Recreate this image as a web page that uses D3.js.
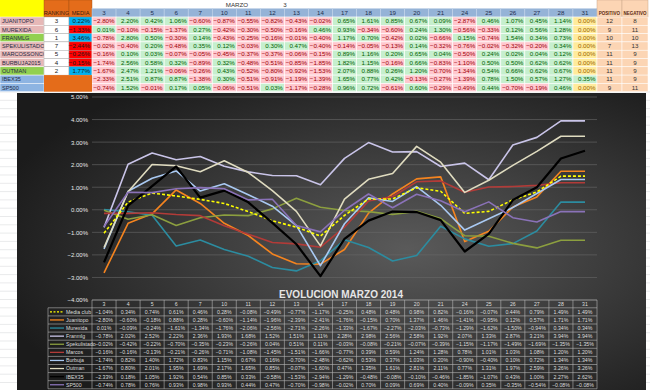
<!DOCTYPE html>
<html>
<head>
<meta charset="utf-8">
<script src="https://cdn.jsdelivr.net/npm/d3@7"></script>
<style>
body{margin:0;background:#fff}
svg{display:block;font-family:"Liberation Sans",Arial,sans-serif}
</style>
</head>
<body>
<svg id="c" width="650" height="390"></svg>
<script>
// dias de marzo
var days = ["3","4","5","6","7","10","11","12","13","14","17","18","19","20","21","24","25","26","27","28","31"];

// tabla de arriba
var players = ["JUANITOPO","MUREXIDA","FRANMLG","SPEKULISTADO","MARCOSSONCCO","BURBUJA2015","OUTMAN","IBEX35","SP500"];
var ranking = [3,6,1,7,5,4,2];
var media = [0.22,-1.33,3.46,-2.44,-0.26,-0.15,1.77];
var positivo = [12,9,10,7,11,11,11,11,9];
var negativo = [8,11,10,13,9,9,9,9,11];

var dJuanitopo = [-2.80,2.20,0.42,1.06,-0.60,-0.87,-0.55,-0.82,-0.43,-0.02,0.65,1.61,0.85,0.67,0.09,-2.87,0.46,1.07,0.45,1.14,0.00];
var dMurexida = [0.01,-0.10,-0.15,-1.37,0.27,-0.42,-0.30,-0.50,-0.16,0.46,0.93,-0.34,-0.60,0.24,1.30,-0.56,-0.33,0.12,0.56,1.28,0.00];
var dFranmlg = [-0.78,2.80,0.50,-0.30,0.14,-0.43,-0.25,-0.16,-0.01,-0.40,1.17,0.70,-0.42,0.02,-0.66,0.15,-0.74,1.54,0.34,0.73,0.00];
var dSpekulistado = [-0.02,-0.40,0.20,-0.48,0.35,0.12,-0.03,0.30,0.47,-0.40,-0.14,-0.05,-0.13,0.14,-0.32,-0.76,-0.02,-0.32,-0.20,0.34,0.00];
var dMarcos = [-0.16,0.10,0.03,-0.07,-0.05,-0.45,-0.37,-0.37,-0.06,-0.15,0.89,1.16,0.20,0.65,0.04,-0.50,0.24,0.02,0.04,0.12,0.00];
var dBurbuja = [-1.74,2.56,0.58,0.32,-0.89,0.32,-0.48,-0.51,-0.85,-1.85,1.82,1.15,-0.16,0.66,-0.83,-1.10,0.50,0.50,0.62,0.62,0.00];
var dOutman = [-1.67,2.47,1.21,-0.06,-0.26,0.43,-0.52,-0.80,-0.92,-1.53,2.07,0.88,0.26,1.20,-0.70,-1.34,0.54,0.66,0.62,0.67,0.00];
var dIbex = [-2.33,2.51,0.87,0.87,-1.38,0.30,-0.51,-0.91,-1.19,-1.39,1.65,0.77,0.42,-0.13,-0.27,-1.39,0.78,1.50,0.57,1.27,0.35];
var dSp500 = [-0.74,1.52,-0.01,0.17,0.05,-0.06,-0.51,0.03,-1.17,-0.28,0.96,0.72,-0.61,0.60,-0.29,-0.49,0.44,-0.70,-0.19,0.46,0.00];

// acumulado (grafico)
var seriesNames = ["Media club","Juanitopo","Murexida","Franmlg","Spekulistado","Marcos","Burbuja","Outman","IBEX35","SP500"];
var cMedia = [-1.04,0.34,0.74,0.61,0.46,0.28,-0.08,-0.49,-0.77,-1.17,-0.25,0.48,0.48,0.98,0.82,-0.16,-0.07,0.44,0.79,1.49,1.49];
var cJuanitopo = [-2.80,-0.60,-0.18,0.88,0.28,-0.60,-1.14,-1.96,-2.39,-2.41,-1.76,-0.15,0.70,1.37,1.46,-1.41,-0.95,0.12,0.57,1.71,1.71];
var cMurexida = [0.01,-0.09,-0.24,-1.61,-1.34,-1.76,-2.06,-2.56,-2.71,-2.26,-1.33,-1.67,-2.27,-2.03,-0.73,-1.29,-1.62,-1.50,-0.94,0.34,0.34];
var cFranmlg = [-0.78,2.02,2.52,2.22,2.36,1.93,1.68,1.52,1.51,1.11,2.28,2.98,2.56,2.58,1.92,2.07,1.33,2.87,3.21,3.94,3.94];
var cSpekulistado = [-0.02,-0.42,-0.22,-0.70,-0.35,-0.23,-0.26,0.04,0.51,0.11,-0.03,-0.08,-0.21,-0.07,-0.39,-1.15,-1.17,-1.49,-1.69,-1.35,-1.35];
var cMarcos = [-0.16,-0.16,-0.13,-0.21,-0.26,-0.71,-1.08,-1.45,-1.51,-1.66,-0.77,0.39,0.59,1.24,1.28,0.78,1.01,1.03,1.08,1.20,1.20];
var cBurbuja = [-1.74,0.82,1.40,1.72,0.83,1.15,0.67,0.16,-0.70,-2.48,-0.62,0.53,0.37,1.03,0.20,-0.90,-0.40,0.10,0.72,1.34,1.34];
var cOutman = [-1.67,0.80,2.01,1.95,1.69,2.17,1.65,0.85,-0.07,-1.60,0.47,1.35,1.61,2.81,2.11,0.77,1.31,1.97,2.59,3.26,3.26];
var cIbex = [-2.33,0.18,1.05,1.92,0.54,0.85,0.33,-0.58,-1.53,-2.94,-1.29,-0.48,-0.08,-0.10,-0.46,-1.85,-1.07,0.43,1.00,2.27,2.62];
var cSp500 = [-0.74,0.78,0.76,0.93,0.98,0.93,0.44,0.47,-0.70,-0.98,-0.02,0.70,0.09,0.69,0.40,-0.09,0.35,-0.35,-0.54,-0.08,-0.08];

var yTicks = [-4,-3,-2,-1,0,1,2,3,4,5];
var colors = ["#ffff00","#f5841f","#2c8ca0","#c9c4e8","#8c9f3f","#b23b38","#a9c9f2","#e0dcc0","#000000","#8a72b8"];

var daily = [dJuanitopo,dMurexida,dFranmlg,dSpekulistado,dMarcos,dBurbuja,dOutman,dIbex,dSp500];
var cumul = [cMedia,cJuanitopo,cMurexida,cFranmlg,cSpekulistado,cMarcos,cBurbuja,cOutman,cIbex,cSp500];

var svg = d3.select("#c");
var pct = function(v){ return d3.format(".2f")(v) + "%"; };

var x = d3.scaleBand().domain(days).range([92, 597]);
var bw = x.bandwidth();

// ---------- hoja de calculo (fondo) ----------
var sheet = svg.append("g");
sheet.append("rect").attr("width",650).attr("height",390).attr("fill","#fff");
d3.range(92, 390, 8.3).forEach(function(yy){
    sheet.append("line").attr("x1",0).attr("x2",650).attr("y1",yy).attr("y2",yy).attr("stroke","#dadcdd").attr("stroke-width",0.6);
});

// ---------- tabla superior ----------
var tabla = svg.append("g").style("font-size","6.2px");
var rowY0 = 17, rowH = 8.3;

tabla.append("rect").attr("x",0).attr("y",0).attr("width",44).attr("height",17).attr("fill","#ffff00");
[["RANKING",44,25],["MEDIA",69,23]].forEach(function(h){
    tabla.append("rect").attr("x",h[1]).attr("y",0).attr("width",h[2]).attr("height",17)
        .attr("fill","#e46c1a").attr("stroke","#9a4a10").attr("stroke-width",0.4);
    tabla.append("text").attr("x",h[1] + h[2]/2).attr("y",15).attr("text-anchor","middle")
        .attr("fill","#3a2010").style("font-size","5.6px").text(h[0]);
});
// fila MARZO
tabla.append("text").attr("x",237).attr("y",6.5).attr("text-anchor","middle").attr("fill","#333").text("MARZO");
tabla.append("text").attr("x",285).attr("y",6.5).attr("text-anchor","middle").attr("fill","#333").text("3");

// cabecera dias
tabla.selectAll("rect.hd").data(days).enter().append("rect")
    .attr("x", function(d){ return x(d); }).attr("y",8.5).attr("width",bw).attr("height",8.5)
    .attr("fill","#95b3d7").attr("stroke","#c5d5ea").attr("stroke-width",0.5);
tabla.selectAll("text.hd").data(days).enter().append("text")
    .attr("x", function(d){ return x(d) + bw/2; }).attr("y",15).attr("text-anchor","middle")
    .attr("fill","#1f2f4f").text(function(d){ return d; });

[["POSITIVO",597,25],["NEGATIVO",622,26]].forEach(function(h){
    tabla.append("rect").attr("x",h[1]).attr("y",0).attr("width",h[2]).attr("height",17)
        .attr("fill","#fcd5b4").attr("stroke","#c9a88a").attr("stroke-width",0.5);
    tabla.append("text").attr("x",h[1]+h[2]/2).attr("y",15).attr("text-anchor","middle")
        .attr("fill","#5a2a10").style("font-size","4.5px").style("font-weight","bold").text(h[0]);
});

var nameFill = ["#e6b8b7","#e6b8b7","#92d050","#e6b8b7","#e6b8b7","#e6b8b7","#92d050","#8db4e2","#8db4e2"];
players.forEach(function(p, i){
    var yy = rowY0 + i*rowH;
    tabla.append("rect").attr("x",0).attr("y",yy).attr("width",44).attr("height",rowH)
        .attr("fill",nameFill[i]).attr("stroke","#fff").attr("stroke-width",0.5);
    tabla.append("text").attr("x",2).attr("y",yy+6.2).attr("fill","#1f2a44").style("font-size","5.6px").text(p);
    if (i < ranking.length) {
        tabla.append("rect").attr("x",44).attr("y",yy).attr("width",25).attr("height",rowH)
            .attr("fill","#fff").attr("stroke","#999").attr("stroke-width",0.4);
        tabla.append("text").attr("x",56.5).attr("y",yy+6.2).attr("text-anchor","middle").attr("fill","#222").text(ranking[i]);
        tabla.append("rect").attr("x",69).attr("y",yy).attr("width",23).attr("height",rowH)
            .attr("fill", media[i] >= 0 ? "#00b0f0" : "#ff0000").attr("stroke","#999").attr("stroke-width",0.4);
        tabla.append("text").attr("x",90).attr("y",yy+6.2).attr("text-anchor","end").attr("fill","#1a1a1a").text(pct(media[i]));
    }
    var cells = tabla.selectAll(null).data(daily[i]).enter();
    cells.append("rect")
        .attr("x", function(d,j){ return x(days[j]); }).attr("y",yy).attr("width",bw).attr("height",rowH)
        .attr("fill", function(d){ return d > 0 ? "#c6efce" : (d < 0 ? "#ffc7ce" : "#ffeb9c"); })
        .attr("stroke","#fff").attr("stroke-width",0.6);
    cells.append("text")
        .attr("x", function(d,j){ return x(days[j]) + bw - 1.5; }).attr("y",yy+6.2).attr("text-anchor","end")
        .attr("fill", function(d){ return d > 0 ? "#006100" : (d < 0 ? "#9c0006" : "#9c6500"); })
        .text(function(d){ return pct(d); });
    [[597,25,positivo[i]],[622,26,negativo[i]]].forEach(function(c){
        tabla.append("rect").attr("x",c[0]).attr("y",yy).attr("width",c[1]).attr("height",rowH)
            .attr("fill","#fcd5b4").attr("stroke","#fff").attr("stroke-width",0.5);
        tabla.append("text").attr("x",c[0]+c[1]/2).attr("y",yy+6.2).attr("text-anchor","middle").attr("fill","#333").text(c[2]);
    });
});
tabla.append("rect").attr("x",44).attr("y",rowY0 + 7*rowH).attr("width",48).attr("height",2*rowH).attr("fill","#e46c1a");

// ---------- grafico ----------
var defs = svg.append("defs");
var grad = defs.append("radialGradient").attr("id","bg").attr("cx","62%").attr("cy","52%").attr("r","68%");
grad.append("stop").attr("offset","0%").attr("stop-color","#5a5a5a");
grad.append("stop").attr("offset","100%").attr("stop-color","#1b1b1b");

var chart = svg.append("g");
chart.append("rect").attr("x",17).attr("y",93).attr("width",629).attr("height",300).attr("fill","url(#bg)");

var y = d3.scaleLinear().domain([-4,5]).range([300, 97]);

chart.append("g").selectAll("line").data(yTicks).enter().append("line")
    .attr("x1",92).attr("x2",597).attr("y1", function(d){ return y(d); }).attr("y2", function(d){ return y(d); })
    .attr("stroke","#6a6a6a").attr("stroke-width",0.6);

var yAxis = chart.append("g").attr("transform","translate(92,0)")
    .call(d3.axisLeft(y).tickValues(yTicks).tickSize(0).tickPadding(4).tickFormat(function(d){ return d3.format(".2f")(d) + "%"; }));
yAxis.select(".domain").remove();
yAxis.selectAll("text").attr("fill","#e8e8e8").style("font-size","6px").style("font-family","Liberation Sans, Arial, sans-serif");

chart.append("text").attr("x",341).attr("y",297.5).attr("text-anchor","middle")
    .attr("fill","#e6e6e6").style("font-size","10px").style("font-weight","bold").text("EVOLUCION MARZO 2014");

var line = d3.line()
    .x(function(d,i){ return x(days[i]) + bw/2; })
    .y(function(d){ return y(d); });

var order = [1,2,3,4,5,6,7,0,8,9];
order.forEach(function(k){
    chart.append("path").datum(cumul[k]).attr("d", line).attr("fill","none")
        .attr("stroke", colors[k]).attr("stroke-width", k == 8 ? 2.2 : 1.6)
        .attr("stroke-dasharray", k == 0 ? "3,2" : null)
        .attr("stroke-linejoin","round");
});

// tabla de datos bajo el eje
var tbl = chart.append("g").style("font-size","5.2px");
var tTop = 300, hdH = 7.8, tRowH = 8.1;
var gridC = "#b5b5b5";
tbl.selectAll("text.h").data(days).enter().append("text")
    .attr("x", function(d){ return x(d) + bw/2; }).attr("y", tTop + 5.8).attr("text-anchor","middle")
    .attr("fill","#dedede").text(function(d){ return d; });
var tBottom = tTop + hdH + 10*tRowH;
tbl.append("line").attr("x1",92).attr("x2",597).attr("y1",tTop).attr("y2",tTop).attr("stroke",gridC).attr("stroke-width",0.6);
days.forEach(function(d){
    tbl.append("line").attr("x1",x(d)).attr("x2",x(d)).attr("y1",tTop).attr("y2",tBottom).attr("stroke",gridC).attr("stroke-width",0.6);
});
tbl.append("line").attr("x1",597).attr("x2",597).attr("y1",tTop).attr("y2",tBottom).attr("stroke",gridC).attr("stroke-width",0.6);
tbl.append("line").attr("x1",48).attr("x2",48).attr("y1",tTop+hdH).attr("y2",tBottom).attr("stroke",gridC).attr("stroke-width",0.6);
seriesNames.forEach(function(n, k){
    var yy = tTop + hdH + k*tRowH;
    tbl.append("line").attr("x1",48).attr("x2",597).attr("y1",yy).attr("y2",yy).attr("stroke",gridC).attr("stroke-width",0.6);
    tbl.append("line").attr("x1",50).attr("x2",64).attr("y1",yy+tRowH/2).attr("y2",yy+tRowH/2)
        .attr("stroke", k == 8 ? "#000" : colors[k]).attr("stroke-width", 1.3)
        .attr("stroke-dasharray", k == 0 ? "2,1.5" : null);
    tbl.append("text").attr("x",66).attr("y",yy+5.9).attr("fill","#dcdcdc").text(n);
    tbl.selectAll(null).data(cumul[k]).enter().append("text")
        .attr("x", function(d,j){ return x(days[j]) + bw/2; }).attr("y", yy + 5.9).attr("text-anchor","middle")
        .attr("fill","#dedede").text(function(d){ return pct(d); });
});
tbl.append("line").attr("x1",48).attr("x2",597).attr("y1",tBottom).attr("y2",tBottom).attr("stroke",gridC).attr("stroke-width",0.6);
</script>
</body>
</html>
